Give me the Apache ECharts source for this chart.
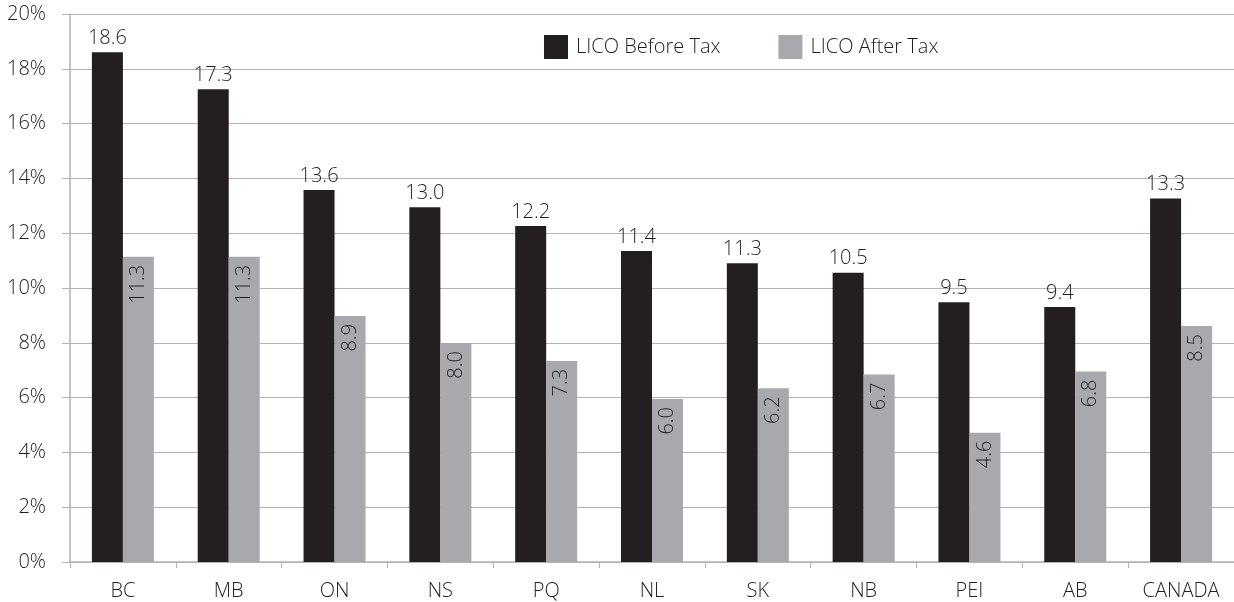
<!DOCTYPE html>
<html>
<head>
<meta charset="utf-8">
<script src="https://cdn.jsdelivr.net/npm/echarts@6/dist/echarts.min.js"></script>
<style>
  html, body { margin: 0; padding: 0; background: #fff; }
  #chart { width: 1234px; height: 602px; }
</style>
</head>
<body>
<div id="chart"></div>
<script>
var provinces = ['BC', 'MB', 'ON', 'NS', 'PQ', 'NL', 'SK', 'NB', 'PEI', 'AB', 'CANADA']
// bar heights as drawn in the picture
var beforeTax = [18.6, 17.25, 13.58, 12.95, 12.26, 11.35, 10.9, 10.56, 9.48, 9.31, 13.27]
var afterTax = [11.14, 11.14, 8.98, 7.99, 7.34, 5.95, 6.34, 6.84, 4.72, 6.95, 8.61]
// printed value labels
var beforeLabels = ['18.6', '17.3', '13.6', '13.0', '12.2', '11.4', '11.3', '10.5', '9.5', '9.4', '13.3']
var afterLabels = ['11.3', '11.3', '8.9', '8.0', '7.3', '6.0', '6.2', '6.7', '4.6', '6.8', '8.5']
var yTicks = [0, 2, 4, 6, 8, 10, 12, 14, 16, 18, 20]

var myChart = echarts.init(document.getElementById('chart'))
var font = '"Open Sans", Lato, sans-serif'
var ink = '#231f20'
var fs = 20
var fw = 300

var option = {
  animation: false,
  textStyle: { fontFamily: font },
  legend: {
    top: 30,
    left: 539,
    icon: 'rect',
    itemWidth: 24,
    itemHeight: 24,
    itemGap: 58,
    textStyle: { fontSize: fs, color: ink, fontFamily: font, fontWeight: fw, padding: [0, 0, 0, 3] },
    data: ['LICO Before Tax', 'LICO After Tax']
  },
  grid: { left: 70, right: 0, top: 14, bottom: 40, containLabel: false },
  xAxis: {
    type: 'category',
    data: provinces,
    axisLine: { lineStyle: { color: '#b3b3b3', width: 1.5 } },
    axisTick: { show: true, length: 6, lineStyle: { color: '#b3b3b3' } },
    axisLabel: { fontSize: fs, color: ink, margin: 19, fontFamily: font, fontWeight: fw }
  },
  yAxis: {
    type: 'value',
    min: yTicks[0],
    max: yTicks[yTicks.length - 1],
    interval: 2,
    axisLine: { show: true, lineStyle: { color: '#b3b3b3', width: 1.5 } },
    axisTick: { show: true, length: 8, lineStyle: { color: '#b3b3b3' } },
    axisLabel: {
      fontSize: fs,
      color: ink,
      margin: 24,
      fontFamily: font,
      fontWeight: fw,
      formatter: function (v) { return v + '%' }
    },
    splitLine: { show: true, lineStyle: { color: '#b3b3b3', width: 1.2 } }
  },
  series: [
    {
      name: 'LICO Before Tax',
      type: 'bar',
      barWidth: 31,
      barGap: '0%',
      itemStyle: { color: ink },
      label: {
        show: true,
        position: 'top',
        distance: 4,
        fontSize: fs,
        color: ink,
        fontFamily: font,
        fontWeight: fw,
        formatter: function (p) { return beforeLabels[p.dataIndex] }
      },
      data: beforeTax
    },
    {
      name: 'LICO After Tax',
      type: 'bar',
      barWidth: 31,
      itemStyle: { color: '#a7a9ac' },
      label: {
        show: true,
        position: 'insideTop',
        rotate: 90,
        align: 'right',
        verticalAlign: 'middle',
        distance: 8,
        fontSize: fs,
        color: ink,
        fontFamily: font,
        fontWeight: fw,
        formatter: function (p) { return afterLabels[p.dataIndex] }
      },
      data: afterTax
    }
  ]
}
myChart.setOption(option)
window.onresize = function () {
  myChart.resize()
}
</script>
</body>
</html>
